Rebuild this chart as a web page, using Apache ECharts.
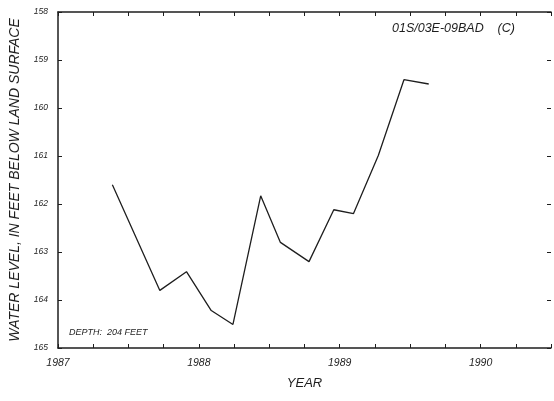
<!DOCTYPE html>
<html>
<head>
<meta charset="utf-8">
<script src="https://cdn.jsdelivr.net/npm/echarts@6/dist/echarts.min.js"></script>
<style>
html,body{margin:0;padding:0;background:#fff;}
#c{width:554px;height:401px;}
</style>
</head>
<body>
<div id="c"></div>
<script>
const years = [1987.386, 1987.723, 1987.912, 1988.088, 1988.242, 1988.439, 1988.579, 1988.782, 1988.958, 1989.098, 1989.274, 1989.456, 1989.632];
const levels = [161.6, 163.8, 163.41, 164.22, 164.51, 161.83, 162.8, 163.2, 162.12, 162.2, 160.99, 159.41, 159.5];
const yearLabels = [1987, 1988, 1989, 1990];
const yTicks = [158, 159, 160, 161, 162, 163, 164, 165];

const ink = '#1e1e1e';
const font = 'Liberation Sans, Arial, sans-serif';
const chart = echarts.init(document.getElementById('c'));
const xCommon = {
  type: 'value', min: 1987, max: 1990.5, interval: 0.25,
  splitLine: {show: false},
  axisLine: {show: true, lineStyle: {color: ink, width: 1.5}},
  axisTick: {show: true, inside: true, length: 4, lineStyle: {color: ink, width: 1}}
};
chart.setOption({
  animation: false,
  backgroundColor: '#fff',
  grid: {left: 57, right: -2, top: 12, bottom: 53},
  xAxis: [
    Object.assign({}, xCommon, {
      position: 'bottom',
      name: 'YEAR', nameLocation: 'middle', nameGap: 29,
      nameTextStyle: {fontFamily: font, fontStyle: 'italic', fontSize: 13, color: ink},
      axisLabel: {
        show: true, margin: 10, fontFamily: font, fontStyle: 'italic', fontSize: 10.5, color: ink,
        formatter: v => yearLabels.indexOf(Math.round(v * 100) / 100) >= 0 ? String(v) : ''
      }
    }),
    Object.assign({}, xCommon, {position: 'top', axisLabel: {show: false}})
  ],
  yAxis: [
    {
      type: 'value', inverse: true, min: 158, max: 165, interval: 1,
      splitLine: {show: false},
      axisLine: {show: true, lineStyle: {color: ink, width: 1.5}},
      axisTick: {show: true, inside: true, length: 4, lineStyle: {color: ink}},
      axisLabel: {
        margin: 10, fontFamily: font, fontStyle: 'italic', fontSize: 8.5, color: ink,
        formatter: v => yTicks.indexOf(v) >= 0 ? String(v) : ''
      },
      name: 'WATER LEVEL, IN FEET BELOW LAND SURFACE', nameLocation: 'middle', nameGap: 36, nameRotate: 90,
      nameTextStyle: {fontFamily: font, fontStyle: 'italic', fontSize: 14, color: ink}
    },
    {
      type: 'value', inverse: true, min: 158, max: 165, interval: 1, position: 'right',
      splitLine: {show: false},
      axisLine: {show: false},
      axisTick: {show: true, inside: true, length: 4, lineStyle: {color: ink}},
      axisLabel: {show: false}
    }
  ],
  graphic: [
    {type: 'text', left: 392, top: 22, style: {text: '01S/03E-09BAD    (C)', font: 'italic 12.5px ' + font, fill: ink}},
    {type: 'text', left: 69, top: 328, style: {text: 'DEPTH:  204 FEET', font: 'italic 9px ' + font, fill: ink}}
  ],
  series: [{
    type: 'line',
    data: years.map((y, i) => [y, levels[i]]),
    showSymbol: false,
    lineStyle: {color: ink, width: 1.3}
  }]
});
</script>
</body>
</html>
